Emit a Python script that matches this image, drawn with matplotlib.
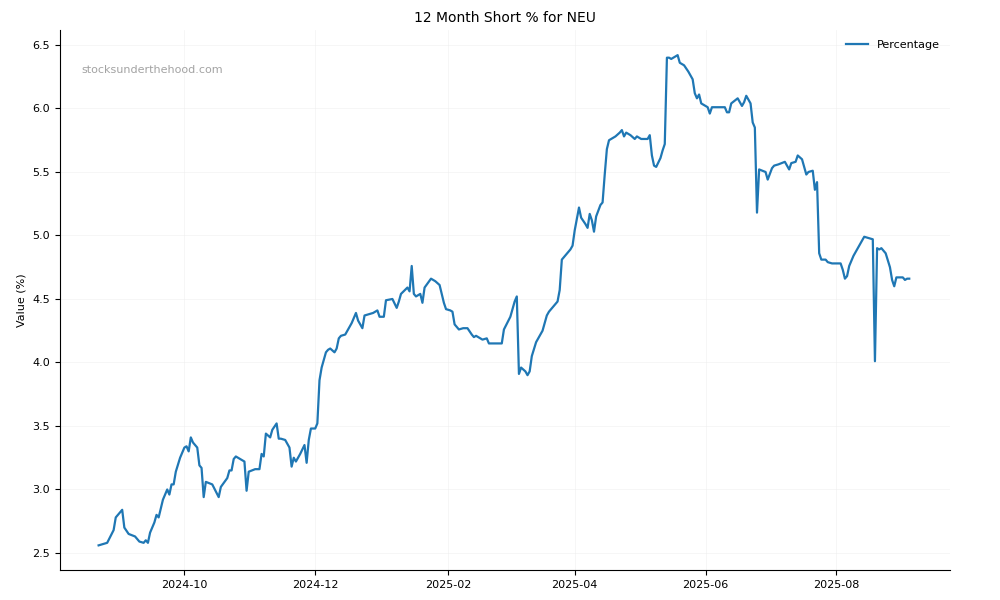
import matplotlib.pyplot as plt
import matplotlib.dates as mdates
import pandas as pd

# days after 2024-10-01
day_offsets = [-40, -36, -33, -32, -29, -28, -26, -23, -21, -19, -18, -17, -16, -14, -13, -12, -10, -8, -7, -6,
               -5, -4, -2, 0, 1, 2, 3, 4, 6, 7, 8, 9, 10, 13, 16, 17, 20, 21, 22, 23,
               24, 28, 29, 30, 33, 35, 36, 37, 38, 40, 41, 43, 44, 45, 47, 49, 50, 51, 52, 54,
               56, 57, 58, 59, 61, 62, 63, 64, 66, 67, 68, 70, 71, 72, 73, 75, 77, 78, 80, 81,
               83, 84, 88, 90, 91, 93, 94, 97, 99, 100, 101, 104, 105, 106, 107, 108, 110, 111, 112, 115,
               117, 119, 121, 122, 124, 125, 126, 128, 130, 132, 134, 135, 136, 139, 141, 142, 147, 148, 149, 152,
               154, 155, 156, 157, 159, 160, 161, 162, 164, 166, 167, 169, 170, 171, 172, 174, 175, 176, 178, 180,
               181, 182, 184, 185, 187, 188, 189, 190, 191, 192, 194, 195, 196, 197, 198, 201, 203, 204, 205, 206,
               208, 210, 211, 213, 216, 217, 218, 219, 220, 222, 223, 224, 225, 226, 227, 229, 230, 231, 233, 235,
               237, 238, 239, 240, 241, 244, 245, 246, 252, 253, 254, 255, 258, 260, 261, 262, 264, 265, 266, 267,
               268, 271, 272, 274, 275, 277, 280, 282, 283, 285, 286, 288, 290, 291, 293, 294, 295, 296, 297, 299,
               300, 302, 306, 307, 308, 309, 310, 312, 314, 315, 317, 321, 322, 323, 324, 325, 327, 329, 330, 331,
               332, 335, 336, 337, 338]
values = [2.56, 2.58, 2.68, 2.78, 2.84, 2.70, 2.65, 2.63, 2.59, 2.58, 2.60, 2.58, 2.66, 2.74, 2.80, 2.78, 2.92, 3.00, 2.96, 3.04,
          3.04, 3.14, 3.25, 3.33, 3.34, 3.30, 3.41, 3.37, 3.33, 3.19, 3.17, 2.94, 3.06, 3.04, 2.94, 3.02, 3.09, 3.15, 3.15, 3.24,
          3.26, 3.22, 2.99, 3.14, 3.16, 3.16, 3.28, 3.26, 3.44, 3.41, 3.47, 3.52, 3.40, 3.40, 3.39, 3.33, 3.18, 3.25, 3.22, 3.28,
          3.35, 3.21, 3.39, 3.48, 3.48, 3.52, 3.86, 3.96, 4.08, 4.10, 4.11, 4.08, 4.11, 4.19, 4.21, 4.22, 4.28, 4.31, 4.39, 4.33,
          4.27, 4.37, 4.39, 4.41, 4.36, 4.36, 4.49, 4.50, 4.43, 4.48, 4.54, 4.59, 4.56, 4.76, 4.54, 4.52, 4.54, 4.47, 4.59, 4.66,
          4.64, 4.61, 4.47, 4.42, 4.41, 4.40, 4.30, 4.26, 4.27, 4.27, 4.22, 4.20, 4.21, 4.18, 4.19, 4.15, 4.15, 4.15, 4.26, 4.36,
          4.48, 4.52, 3.91, 3.96, 3.93, 3.90, 3.93, 4.05, 4.16, 4.22, 4.25, 4.37, 4.40, 4.42, 4.44, 4.48, 4.57, 4.81, 4.85, 4.89,
          4.92, 5.04, 5.22, 5.14, 5.09, 5.06, 5.17, 5.12, 5.03, 5.15, 5.24, 5.26, 5.48, 5.68, 5.75, 5.78, 5.81, 5.83, 5.78, 5.81,
          5.79, 5.76, 5.78, 5.76, 5.76, 5.79, 5.63, 5.55, 5.54, 5.61, 5.67, 5.72, 6.40, 6.40, 6.39, 6.41, 6.42, 6.36, 6.34, 6.29,
          6.23, 6.12, 6.08, 6.11, 6.04, 6.01, 5.96, 6.01, 6.01, 5.97, 5.97, 6.04, 6.08, 6.02, 6.05, 6.10, 6.04, 5.89, 5.85, 5.18,
          5.52, 5.50, 5.44, 5.53, 5.55, 5.56, 5.58, 5.52, 5.57, 5.58, 5.63, 5.60, 5.48, 5.50, 5.51, 5.36, 5.42, 4.86, 4.81, 4.81,
          4.79, 4.78, 4.78, 4.73, 4.66, 4.68, 4.76, 4.84, 4.90, 4.93, 4.99, 4.97, 4.01, 4.90, 4.89, 4.90, 4.86, 4.75, 4.65, 4.60,
          4.67, 4.67, 4.65, 4.66, 4.66]

dates = pd.Timestamp("2024-10-01") + pd.to_timedelta(day_offsets, unit="D")

fig, ax = plt.subplots(figsize=(10, 6), dpi=100)
ax.plot(dates, values, color="#1f77b4", linewidth=1.6, label="Percentage")
ax.set_title("12 Month Short % for NEU", fontsize=10)
ax.set_ylabel("Value (%)", fontsize=8)
ax.tick_params(labelsize=8)
ax.xaxis.set_major_locator(mdates.MonthLocator(bymonth=[2, 4, 6, 8, 10, 12]))
ax.xaxis.set_major_formatter(mdates.DateFormatter("%Y-%m"))
ax.set_xlim(pd.Timestamp("2024-08-04"), pd.Timestamp("2025-09-23"))
ax.set_ylim(2.366, 6.618)
ax.grid(True, color="#eeeeee", linewidth=0.6, alpha=0.6)
ax.spines["top"].set_visible(False)
ax.spines["right"].set_visible(False)
ax.legend(loc="upper right", frameon=False, fontsize=8)
ax.text(0.024, 0.92, "stocksunderthehood.com", transform=ax.transAxes, color="#999999", fontsize=8, alpha=0.9)
plt.subplots_adjust(left=0.06, right=0.95, top=0.95, bottom=0.05)
plt.savefig("out.png")
